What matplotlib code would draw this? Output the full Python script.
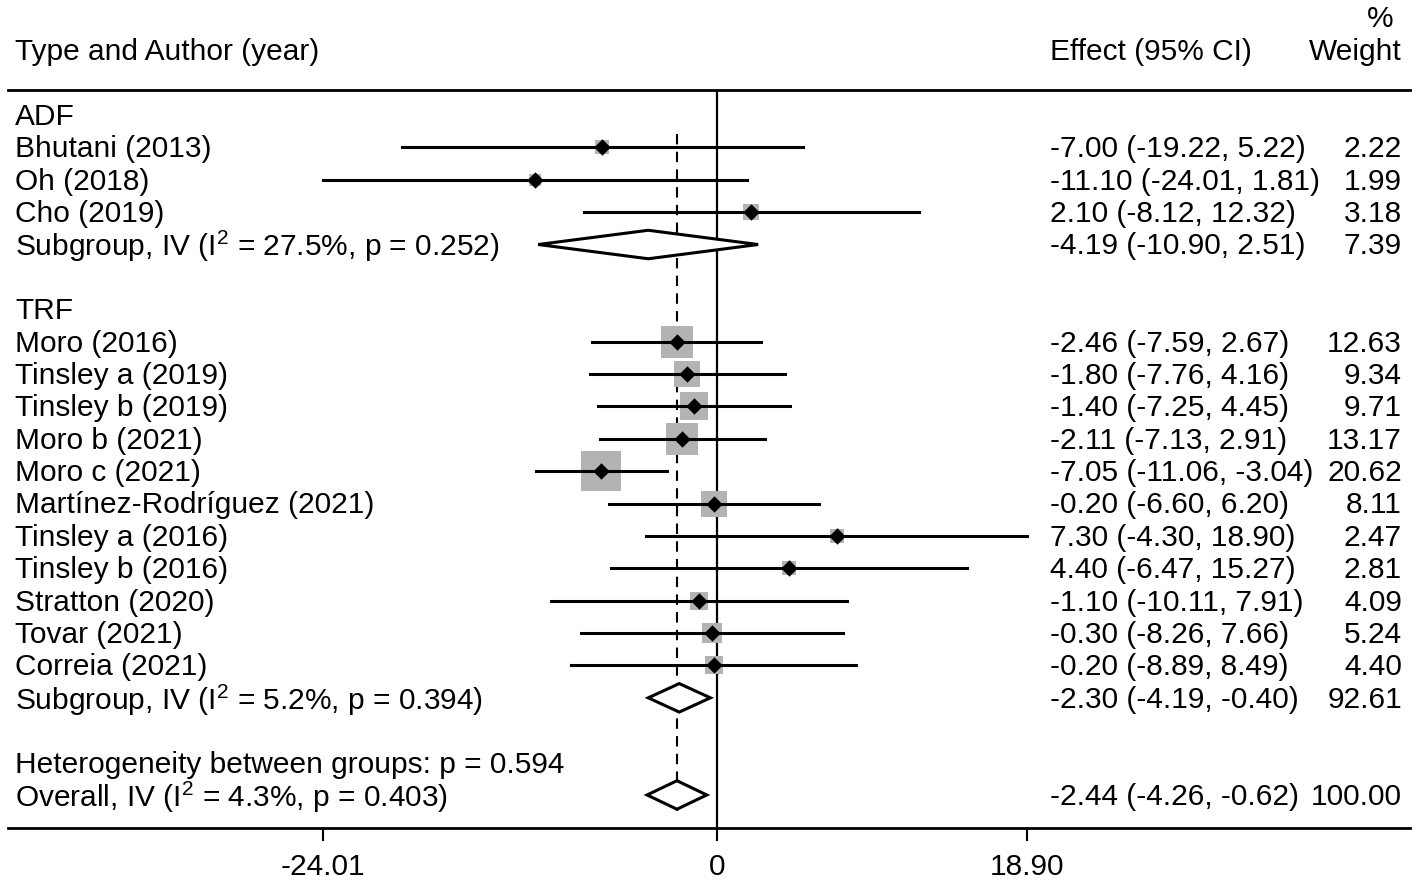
import matplotlib
matplotlib.use("Agg")
import matplotlib.pyplot as plt
import matplotlib.transforms as mtransforms
from matplotlib.patches import Polygon

plt.rcParams['font.family'] = ['Liberation Sans', 'DejaVu Sans']
plt.rcParams['mathtext.fontset'] = 'custom'
plt.rcParams['mathtext.rm'] = 'Liberation Sans'

# studies: label, effect, lower, upper, weight, row
study_labels = ["Bhutani (2013)", "Oh (2018)", "Cho (2019)",
                "Moro (2016)", "Tinsley a (2019)", "Tinsley b (2019)",
                "Moro b (2021)", "Moro c (2021)", "Martínez-Rodríguez (2021)",
                "Tinsley a (2016)", "Tinsley b (2016)", "Stratton (2020)",
                "Tovar (2021)", "Correia (2021)"]
study_eff = [-7.00, -11.10, 2.10, -2.46, -1.80, -1.40, -2.11, -7.05, -0.20,
             7.30, 4.40, -1.10, -0.30, -0.20]
study_lo = [-19.22, -24.01, -8.12, -7.59, -7.76, -7.25, -7.13, -11.06, -6.60,
            -4.30, -6.47, -10.11, -8.26, -8.89]
study_hi = [5.22, 1.81, 12.32, 2.67, 4.16, 4.45, 2.91, -3.04, 6.20,
            18.90, 15.27, 7.91, 7.66, 8.49]
study_wt = [2.22, 1.99, 3.18, 12.63, 9.34, 9.71, 13.17, 20.62, 8.11,
            2.47, 2.81, 4.09, 5.24, 4.40]
study_rows = [1, 2, 3, 7, 8, 9, 10, 11, 12, 13, 14, 15, 16, 17]

# pooled estimates
pool_labels = ["Subgroup, IV (I$^2$ = 27.5%, p = 0.252)",
               "Subgroup, IV (I$^2$ = 5.2%, p = 0.394)",
               "Overall, IV (I$^2$ = 4.3%, p = 0.403)"]
pool_eff = [-4.19, -2.30, -2.44]
pool_lo = [-10.90, -4.19, -4.26]
pool_hi = [2.51, -0.40, -0.62]
pool_wt = ["7.39", "92.61", "100.00"]
pool_rows = [4, 18, 21]

group_labels = ["ADF", "TRF"]
group_rows = [0, 6]
het_text = "Heterogeneity between groups: p = 0.594"
het_row = 20
xticks = [-24.01, 0, 18.90]
xtick_labels = ["-24.01", "0", "18.90"]

fig = plt.figure(figsize=(14.18, 8.84), dpi=100)
ax = fig.add_axes([8 / 1418, 56 / 884, 1402 / 1418, 738 / 884])
ax.set_xlim(-43.23, 42.26)
ax.set_ylim(22.02, -0.772)
for s in ["left", "right"]:
    ax.spines[s].set_visible(False)
ax.spines["top"].set_linewidth(2)
ax.spines["bottom"].set_linewidth(2)
ax.set_yticks([])
ax.set_xticks(xticks)
ax.set_xticklabels(xtick_labels, fontsize=21.5)
ax.tick_params(axis="x", length=9, width=1.5, pad=9)

fs = 21.5
dy = 0.06  # small nudge so text centres sit on the CI lines
tr = mtransforms.blended_transform_factory(fig.transFigure, ax.transData)
xl, xe, xw = 15 / 1418, 1050 / 1418, 1402 / 1418


def row_text(x, r, s, ha="left"):
    ax.text(x, r + dy, s, transform=tr, fontsize=fs, va="center", ha=ha,
            clip_on=False)


# reference lines
ax.axvline(0, color="black", lw=1.6)
overall = pool_eff[-1]
ax.plot([overall, overall], [0.6, 21.5], color="black", lw=1.5,
        ls=(0, (5, 3.5)))

# study CIs, boxes and points
for lab, e, lo, hi, w, r in zip(study_labels, study_eff, study_lo, study_hi,
                                study_wt, study_rows):
    ax.scatter([e], [r], s=40 * w, marker="s", color="#b3b3b3", zorder=2,
               linewidths=0)
    ax.plot([lo, hi], [r, r], color="black", lw=2.2, zorder=3)
    ax.scatter([e], [r], s=70, marker="D", color="black", zorder=4,
               linewidths=0)
    row_text(xl, r, lab)
    row_text(xe, r, "%.2f (%.2f, %.2f)" % (e, lo, hi))
    row_text(xw, r, "%.2f" % w, ha="right")

# pooled diamonds
for lab, e, lo, hi, w, r in zip(pool_labels, pool_eff, pool_lo, pool_hi,
                                pool_wt, pool_rows):
    h = 0.44
    ax.add_patch(Polygon([[lo, r], [e, r - h], [hi, r], [e, r + h]],
                         closed=True, facecolor="white", edgecolor="black",
                         lw=2.2, zorder=5))
    row_text(xl, r, lab)
    row_text(xe, r, "%.2f (%.2f, %.2f)" % (e, lo, hi))
    row_text(xw, r, w, ha="right")

for lab, r in zip(group_labels, group_rows):
    row_text(xl, r, lab)
row_text(xl, het_row, het_text)

# headers
row_text(xl, -2, "Type and Author (year)")
row_text(xe, -2, "Effect (95% CI)")
row_text(xw, -2, "Weight", ha="right")
row_text(1393 / 1418, -3.02, "%", ha="right")

fig.savefig("out.png", dpi=100)
